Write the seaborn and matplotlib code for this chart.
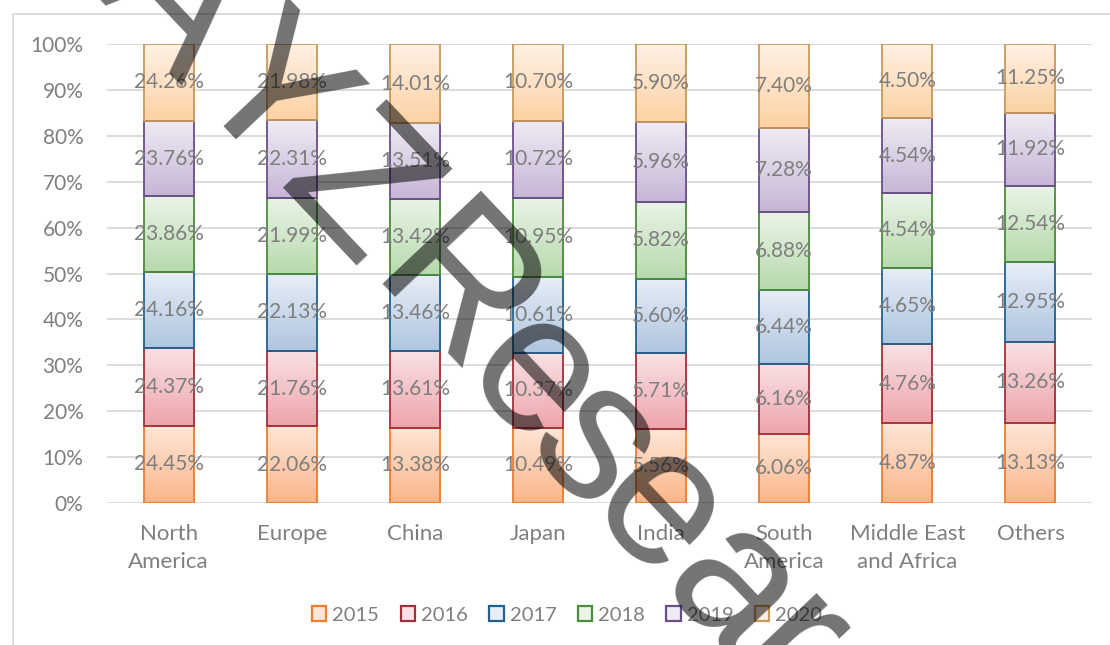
import numpy as np
import pandas as pd
import matplotlib
matplotlib.use("Agg")
import matplotlib.pyplot as plt
from matplotlib.patches import Rectangle, Patch
from matplotlib.colors import to_rgb
import seaborn as sns

regions = ["North\nAmerica", "Europe", "China", "Japan", "India",
           "South\nAmerica", "Middle East\nand Africa", "Others"]
years = ["2015", "2016", "2017", "2018", "2019", "2020"]
v2015 = [24.45, 22.06, 13.38, 10.49, 5.56, 6.06, 4.87, 13.13]
v2016 = [24.37, 21.76, 13.61, 10.37, 5.71, 6.16, 4.76, 13.26]
v2017 = [24.16, 22.13, 13.46, 10.61, 5.60, 6.44, 4.65, 12.95]
v2018 = [23.86, 21.99, 13.42, 10.95, 5.82, 6.88, 4.54, 12.54]
v2019 = [23.76, 22.31, 13.51, 10.72, 5.96, 7.28, 4.54, 11.92]
v2020 = [24.26, 21.98, 14.01, 10.70, 5.90, 7.40, 4.50, 11.25]
yticks = [0, 0.1, 0.2, 0.3, 0.4, 0.5, 0.6, 0.7, 0.8, 0.9, 1.0]
ytick_labels = ["0%", "10%", "20%", "30%", "40%", "50%", "60%", "70%", "80%", "90%", "100%"]

edge_colors = ["#ED7D31", "#A2303A", "#22618F", "#4E8B3D", "#6A4E8A", "#C89A5C"]
top_colors = ["#FEE6D7", "#F9E1E4", "#E7EEF7", "#EAF4E7", "#EFEBF4", "#FFF1E4"]
bot_colors = ["#FBB68A", "#EDA5AB", "#AFC5DF", "#B7DAAD", "#C7B6D6", "#FDD2A4"]

series = [v2015, v2016, v2017, v2018, v2019, v2020]
raw = np.array(series)
totals = raw.sum(axis=0)
norm = raw / totals

rows = []
for yi, yr in enumerate(years):
    for ri, reg in enumerate(regions):
        rows.append({"region": reg, "year": yr, "value": raw[yi, ri], "share": norm[yi, ri]})
df = pd.DataFrame(rows)

sns.set_style("white")
plt.rcParams["font.family"] = ["Lato", "DejaVu Sans"]

W, H = 1110, 645
fig = plt.figure(figsize=(W / 100, H / 100), dpi=100)
ax = fig.add_axes([107 / W, 1 - 503 / H, (1092 - 107) / W, (503 - 44) / H])

txt_color = "#7F7F7F"
bw = 50 / 123.1

bottoms = np.zeros(len(regions))
for yi, yr in enumerate(years):
    sub = df[df["year"] == yr]
    sns.barplot(data=sub, x="region", y="share", color=edge_colors[yi], ax=ax,
                width=bw, order=regions, errorbar=None, saturation=1)
    cont = ax.containers[-1]
    top = np.array(to_rgb(top_colors[yi]))
    bot = np.array(to_rgb(bot_colors[yi]))
    grad = np.linspace(0, 1, 64)[:, None, None] * (bot - top)[None, None, :] + top[None, None, :]
    for j, bar in enumerate(cont):
        h = bar.get_height()
        bar.set_y(bottoms[j])
        bar.set_facecolor("none")
        bar.set_edgecolor(edge_colors[yi])
        bar.set_linewidth(1.3)
        bar.set_zorder(2)
        x0 = bar.get_x()
        ax.imshow(grad, extent=(x0, x0 + bar.get_width(), bottoms[j], bottoms[j] + h),
                  origin="upper", aspect="auto", interpolation="bilinear", zorder=1.9)
    labels = [f"{v:.2f}%" for v in sub["value"]]
    ax.bar_label(cont, labels=labels, label_type="center", color=txt_color,
                 fontsize=15, zorder=3)
    bottoms = bottoms + sub["share"].to_numpy()

ax.set_xlim(-0.5, len(regions) - 0.5)
ax.set_ylim(0, 1)
ax.set_yticks(yticks)
ax.set_yticklabels(ytick_labels)
ax.set_xticks(range(len(regions)))
ax.set_xticklabels(regions, linespacing=1.5)
ax.set_xlabel("")
ax.set_ylabel("")
ax.tick_params(axis="both", length=0, colors=txt_color)
ax.tick_params(axis="y", pad=17, labelsize=15)
ax.tick_params(axis="x", pad=15, labelsize=16)
ax.yaxis.grid(True, color="#D9D9D9", linewidth=1.3)
ax.set_axisbelow(True)
for s in ax.spines.values():
    s.set_visible(False)

handles = [Patch(facecolor=top_colors[i], edgecolor=edge_colors[i], linewidth=1.6, label=years[i])
           for i in range(len(years))]
fig.legend(handles=handles, loc="center", bbox_to_anchor=(567 / W, 1 - 615 / H), ncol=6,
           frameon=False, fontsize=14.5, labelcolor=txt_color, handlelength=0.72, handleheight=0.72,
           handletextpad=0.3, columnspacing=1.05)

# chart frame (left and top edges visible)
fig.add_artist(Rectangle((13 / W, -0.1), 1.2, 1 - 14 / H + 0.1, transform=fig.transFigure,
                         fill=False, edgecolor="#D9D9D9", linewidth=1.3))

# watermark: letters placed one by one along a diagonal baseline
ang = np.deg2rad(46.6)
dvec = np.array([np.cos(ang), np.sin(ang)])      # text direction (image px, y down)
uvec = np.array([np.sin(ang), -np.cos(ang)])     # text "up" direction
wm_letters = ["A", "Y", "Z", "R", "e", "s", "e", "a", "r"]
wm_pos = [122, 255, 385, 528, 643, 733, 825, 933, 1014]
wm_base = 72
for ch, xt in zip(wm_letters, wm_pos):
    p = xt * dvec + wm_base * uvec
    fig.text(p[0] / W, 1 - p[1] / H, ch, rotation=-46.6, rotation_mode="anchor",
             ha="center", va="baseline", fontsize=141, color="black", alpha=0.55,
             family="Liberation Sans", zorder=10)

fig.savefig("out.png", dpi=100)
